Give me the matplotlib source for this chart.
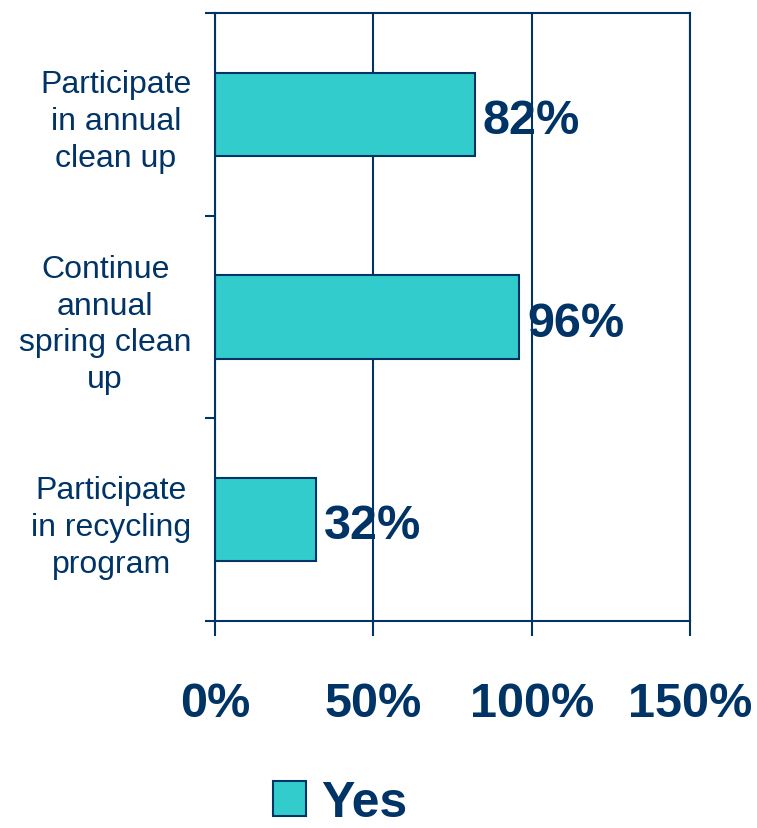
import matplotlib
matplotlib.use("Agg")
import matplotlib.pyplot as plt
from matplotlib.patches import Patch

categories = [
    "Participate\nin annual\nclean up",
    "Continue\nannual\nspring clean\nup",
    "Participate\nin recycling\nprogram",
]
yes_values = [82, 96, 32]
x_ticks = [0, 50, 100, 150]
x_tick_labels = ["0%", "50%", "100%", "150%"]

navy = "#003366"
teal = "#33CCCC"

plt.rcParams["font.family"] = ["Liberation Sans", "DejaVu Sans"]

fig = plt.figure(figsize=(7.57, 8.29), dpi=100)
ax = fig.add_axes([0.284, 0.2497, 0.6275, 0.7334])

pos = list(range(len(categories)))
ax.barh(pos, yes_values, height=0.41, color=teal, edgecolor=navy,
        linewidth=1.5, zorder=2)

for p, v in zip(pos, yes_values):
    ax.text(v + 2.5, p + 0.03, f"{v}%", va="center", ha="left",
            fontsize=35, fontweight="bold", color=navy, zorder=3)

ax.set_xlim(0, 150)
ax.set_ylim(2.5, -0.5)
ax.set_xticks(x_ticks)
ax.set_xticklabels(x_tick_labels, fontsize=35, fontweight="bold", color=navy)
ax.set_yticks(pos)
ax.set_yticklabels(categories, fontsize=23, color=navy, multialignment="center",
                   linespacing=1.3)
ax.set_yticks([-0.5, 0.5, 1.5, 2.5], minor=True)

ax.tick_params(axis="x", length=11, width=1.5, color=navy, pad=32)
ax.tick_params(axis="y", which="major", length=0, pad=17)
ax.tick_params(axis="y", which="minor", length=7, width=1.5, color=navy)

ax.grid(axis="x", color=navy, linewidth=1.5, zorder=1)
ax.set_axisbelow(True)
for s in ax.spines.values():
    s.set_color(navy)
    s.set_linewidth(1.5)

handle = Patch(facecolor=teal, edgecolor=navy, linewidth=1.5)
fig.legend([handle], ["Yes"], loc="center", bbox_to_anchor=(0.449, 0.03),
           frameon=False, handlelength=0.66, handleheight=0.72,
           handletextpad=0.3, borderpad=0.1,
           prop={"size": 36, "weight": "bold"}, labelcolor=navy)

fig.savefig("out.png", dpi=100)
